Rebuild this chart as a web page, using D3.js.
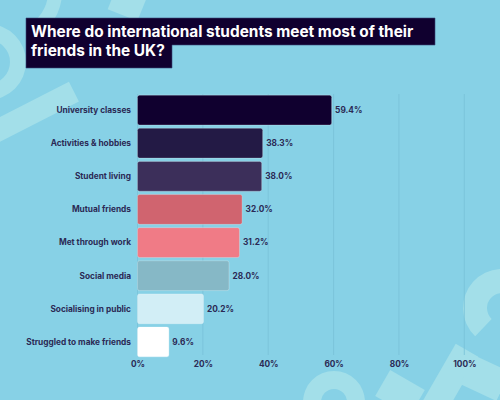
<!DOCTYPE html>
<html>
<head>
<meta charset="utf-8">
<script src="https://cdn.jsdelivr.net/npm/d3@7"></script>
<style>
html,body{margin:0;padding:0;background:#87d1e6;}
svg{display:block;}
text{font-family:"Inter","Open Sans",sans-serif;}
</style>
</head>
<body>
<svg id="chart" width="500" height="400"></svg>
<script>
const categories = ["University classes","Activities & hobbies","Student living","Mutual friends","Met through work","Social media","Socialising in public","Struggled to make friends"];
const values = [59.4,38.3,38.0,32.0,31.2,28.0,20.2,9.6];
const barColors = ["#10002f","#231a45","#3c2f5a","#d0646f","#f07b86","#86b8c6","#d2eef6","#ffffff"];
const tickValues = [0,20,40,60,80,100];
const titleLines = ["Where do international students meet most of their","friends in the UK?"];

const svg = d3.select("#chart");
const W = 500, H = 400;
svg.append("rect").attr("width",W).attr("height",H).attr("fill","#87d1e6");

// decorative shapes
const deco = svg.append("g").attr("fill","#a3dfe9");
const arc = d3.arc();
deco.append("path").attr("transform","translate(-12,62)")
  .attr("d",arc({innerRadius:22,outerRadius:38,startAngle:0,endAngle:Math.PI}));
deco.append("path").attr("transform","translate(10,-8)")
  .attr("d",arc({innerRadius:38,outerRadius:52,startAngle:1.4,endAngle:2.6}));
deco.append("rect").attr("x",-30).attr("y",-10).attr("width",90).attr("height",22)
  .attr("transform","translate(20,118) rotate(-27)");
deco.append("rect").attr("x",-16).attr("y",-12).attr("width",32).attr("height",24)
  .attr("transform","translate(127,4) rotate(22)");
deco.append("path").attr("transform","translate(334,402)")
  .attr("d",arc({innerRadius:13,outerRadius:31,startAngle:0,endAngle:2*Math.PI}));
deco.append("rect").attr("x",-20).attr("y",-15).attr("width",40).attr("height",30)
  .attr("transform","translate(400,393) rotate(30)");
deco.append("rect").attr("x",-13).attr("y",-40).attr("width",26).attr("height",80)
  .attr("transform","translate(447,385) rotate(30)");
deco.append("rect").attr("x",-20).attr("y",-16).attr("width",40).attr("height",32)
  .attr("transform","translate(485,378) rotate(25)");
deco.append("path").attr("transform","translate(502,308)")
  .attr("d",arc({innerRadius:15,outerRadius:39,startAngle:3.9,endAngle:7.0}));

// title
const tg = svg.append("g");
tg.append("path").attr("d","M26,18H435V45H172V68H26Z").attr("fill","#10002f").attr("stroke","#3a4a7a").attr("stroke-width",0.6);
tg.selectAll("text").data(titleLines).join("text")
  .attr("x",31).attr("y",(d,i)=>37+i*19)
  .attr("fill","#ffffff").attr("font-size",15.4).attr("font-weight",700)
  .text(d=>d);

// scales
const x = d3.scaleLinear().domain([0,100]).range([137.5,464.3]);
const y = d3.scaleBand().domain(categories).range([93.5,358.5]).paddingInner(0.1).paddingOuter(0.05);

// gridlines
svg.append("g").selectAll("line").data(tickValues).join("line")
  .attr("x1",d=>x(d)).attr("x2",d=>x(d)).attr("y1",94).attr("y2",355)
  .attr("stroke","#79c2d8").attr("stroke-width",0.8);

// bars
svg.append("g").selectAll("rect").data(values).join("rect")
  .attr("x",x(0)).attr("y",(d,i)=>y(categories[i]))
  .attr("width",d=>x(d)-x(0)).attr("height",y.bandwidth())
  .attr("rx",2).attr("fill",(d,i)=>barColors[i])
  .attr("stroke","rgba(255,255,255,0.35)").attr("stroke-width",0.7);

// category labels
svg.append("g").selectAll("text").data(categories).join("text")
  .attr("x",131).attr("y",d=>y(d)+y.bandwidth()/2).attr("dy","0.35em")
  .attr("text-anchor","end").attr("fill","#2b2a55")
  .attr("font-size",8.3).attr("font-weight",700).text(d=>d);

// value labels
svg.append("g").selectAll("text").data(values).join("text")
  .attr("x",d=>x(d)+3.5).attr("y",(d,i)=>y(categories[i])+y.bandwidth()/2).attr("dy","0.35em")
  .attr("fill","#2b2a55").attr("font-size",8.3).attr("font-weight",700)
  .text(d=>d.toFixed(1)+"%");

// x axis
const xAxis = d3.axisBottom(x).tickValues(tickValues).tickFormat(d=>d+"%").tickSize(0).tickPadding(0);
const ax = svg.append("g").attr("transform","translate(0,361)").call(xAxis);
ax.select(".domain").remove();
ax.selectAll("text").attr("fill","#2b2a55").attr("font-size",8.3).attr("font-weight",700)
  .attr("font-family","Inter, 'Open Sans', sans-serif");
</script>
</body>
</html>
